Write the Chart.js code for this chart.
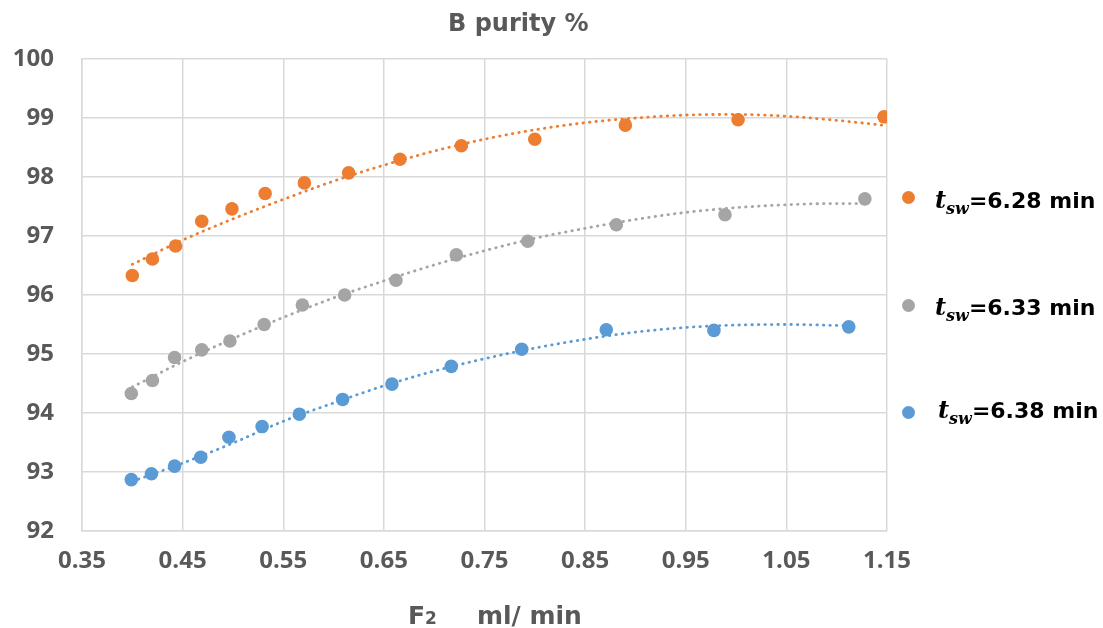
<!DOCTYPE html>
<html><head><meta charset="utf-8">
<script src="https://cdn.jsdelivr.net/npm/chart.js@4"></script>
<style>
body{margin:0;background:#fff;}
#wrap{position:relative;width:1103px;height:628px;overflow:hidden;}
canvas{position:absolute;left:0;top:0;}
.t{position:absolute;font-family:'DejaVu Sans',sans-serif;font-weight:bold;color:#595959;white-space:nowrap;line-height:1;}
.lg{position:absolute;color:#000;white-space:nowrap;line-height:1;font-size:22px;}
.lt{font-family:'DejaVu Serif',serif;font-style:italic;font-weight:bold;}
.ln{font-family:'DejaVu Sans',sans-serif;font-weight:bold;}
.dot{position:absolute;width:13px;height:13px;border-radius:50%;}
</style>
</head><body>
<div id="wrap">
<canvas id="c" width="1103" height="628"></canvas>
<div class="t" style="left:448px;top:11px;font-size:24px;">B purity %</div>
<div class="t" style="left:408px;top:603px;font-size:25px;">F<span style="font-size:17px;">2</span></div>
<div class="t" style="left:477px;top:603px;font-size:25px;">ml/ min</div>
<div id="legend"></div>
</div>
<script>
// ---- data ----
const seriesNames = ['6.28 min', '6.33 min', '6.38 min'];
const seriesColors = ['#ED7D31', '#A5A5A5', '#5B9BD5'];

const xOrange = [0.400,0.420,0.443,0.469,0.499,0.532,0.571,0.615,0.666,0.727,0.800,0.890,1.002,1.147];
const yOrange = [96.33,96.61,96.83,97.25,97.46,97.72,97.90,98.07,98.30,98.53,98.64,98.88,98.97,99.02];

const xGray = [0.399,0.420,0.442,0.469,0.497,0.531,0.569,0.611,0.662,0.722,0.793,0.881,0.989,1.128];
const yGray = [94.33,94.55,94.94,95.07,95.22,95.50,95.83,96.00,96.25,96.68,96.91,97.19,97.36,97.63];

const xBlue = [0.399,0.419,0.442,0.468,0.496,0.529,0.566,0.609,0.658,0.717,0.787,0.871,0.978,1.112];
const yBlue = [92.87,92.97,93.10,93.25,93.59,93.77,93.98,94.23,94.49,94.79,95.08,95.41,95.40,95.46];

// trendlines
const xTrendOrange = [0.40,0.45,0.50,0.55,0.60,0.65,0.70,0.75,0.80,0.85,0.90,0.95,1.00,1.05,1.10,1.15];
const yTrendOrange = [96.52,96.93,97.29,97.62,97.93,98.20,98.44,98.64,98.80,98.92,99.00,99.05,99.06,99.03,98.96,98.87];
const xTrendGray = [0.40,0.45,0.50,0.55,0.60,0.65,0.70,0.75,0.80,0.85,0.90,0.95,1.00,1.05,1.10,1.13];
const yTrendGray = [94.44,94.87,95.26,95.62,95.95,96.24,96.51,96.75,96.96,97.13,97.28,97.40,97.48,97.53,97.55,97.55];
const xTrendBlue = [0.40,0.45,0.50,0.55,0.60,0.65,0.70,0.75,0.80,0.85,0.90,0.95,1.00,1.05,1.11];
const yTrendBlue = [92.84,93.15,93.49,93.86,94.17,94.46,94.71,94.92,95.10,95.25,95.37,95.45,95.49,95.50,95.48];

const xTickValues = [0.35,0.45,0.55,0.65,0.75,0.85,0.95,1.05,1.15];
const xTickLabels = ['0.35','0.45','0.55','0.65','0.75','0.85','0.95','1.05','1.15'];
const yTickValues = [92,93,94,95,96,97,98,99,100];
const yTickLabels = ['92','93','94','95','96','97','98','99','100'];

// ---- build ----
const pts = (xs, ys) => xs.map((x, i) => ({x: x, y: ys[i]}));
const scatterDs = (xs, ys, col) => ({
  type: 'scatter', data: pts(xs, ys), backgroundColor: col, borderColor: col,
  pointRadius: 6.8, pointBorderWidth: 0, pointHoverRadius: 6.8, showLine: false, order: 2
});
const trendDs = (xs, ys, col) => ({
  type: 'line', data: pts(xs, ys), borderColor: col, borderWidth: 2.8,
  borderDash: [0.5, 6], borderCapStyle: 'round', pointRadius: 0, tension: 0.4,
  cubicInterpolationMode: 'monotone', fill: false, order: 1
});

const font = {family: 'Open Sans', size: 24, weight: 'bold'};
const findLabel = (vals, labels, v) => {
  const i = vals.findIndex(t => Math.abs(t - v) < 1e-6);
  return i >= 0 ? labels[i] : '';
};

new Chart(document.getElementById('c'), {
  type: 'scatter',
  data: {
    datasets: [
      scatterDs(xOrange, yOrange, seriesColors[0]),
      scatterDs(xGray, yGray, seriesColors[1]),
      scatterDs(xBlue, yBlue, seriesColors[2]),
      trendDs(xTrendOrange, yTrendOrange, seriesColors[0]),
      trendDs(xTrendGray, yTrendGray, seriesColors[1]),
      trendDs(xTrendBlue, yTrendBlue, seriesColors[2])
    ]
  },
  options: {
    responsive: false, animation: false, devicePixelRatio: 1,
    layout: {padding: {top: 59, right: 216, left: 0, bottom: 0}},
    plugins: {legend: {display: false}, title: {display: false}, tooltip: {enabled: false}},
    scales: {
      x: {
        type: 'linear', min: 0.35, max: 1.15,
        afterBuildTicks: s => { s.ticks = xTickValues.map(v => ({value: v})); },
        afterFit: s => { s.height = 97; },
        ticks: {callback: v => findLabel(xTickValues, xTickLabels, v), font: font, color: '#595959', padding: 16, maxRotation: 0, autoSkip: false},
        grid: {color: '#D9D9D9', lineWidth: 1.5, drawTicks: false},
        border: {color: '#D9D9D9', width: 1.5}
      },
      y: {
        type: 'linear', min: 92, max: 100,
        afterBuildTicks: s => { s.ticks = yTickValues.map(v => ({value: v})); },
        afterFit: s => { s.width = 82; },
        ticks: {callback: v => findLabel(yTickValues, yTickLabels, v), font: font, color: '#595959', padding: 28, autoSkip: false},
        grid: {color: '#D9D9D9', lineWidth: 1.5, drawTicks: false},
        border: {color: '#D9D9D9', width: 1.5}
      }
    }
  }
});

// ---- legend (HTML, for the subscript) ----
const legendDotY = [197, 305, 412];
const legendBase = [207, 314, 417];
const legendLeft = [935, 935, 938];
const lg = document.getElementById('legend');
seriesNames.forEach((name, i) => {
  const d = document.createElement('div');
  d.className = 'dot';
  d.style.background = seriesColors[i];
  d.style.left = (908 - 6.5) + 'px';
  d.style.top = (legendDotY[i] - 6.5) + 'px';
  lg.appendChild(d);
  const t = document.createElement('div');
  t.className = 'lg';
  t.style.left = legendLeft[i] + 'px';
  t.style.top = (legendBase[i] - 19) + 'px';
  t.innerHTML = '<span class="lt" style="font-size:24px;">t</span>' +
    '<span class="lt" style="font-size:16px;position:relative;top:6px;">sw</span>' +
    '<span class="ln" style="font-size:22px;">=' + name + '</span>';
  lg.appendChild(t);
});
</script>
</body></html>
